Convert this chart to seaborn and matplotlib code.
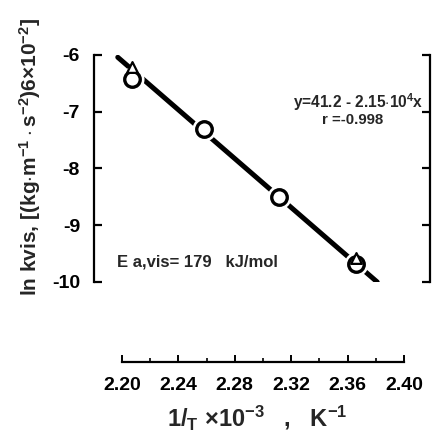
import matplotlib
matplotlib.use("Agg")
import matplotlib.pyplot as plt
import seaborn as sns
import numpy as np

# data (x in 1/T x 10^-3 K^-1)
circle_x = [2.207, 2.258, 2.311, 2.366]
circle_y = [-6.42, -7.31, -8.51, -9.69]
tri_x = [2.207, 2.366]
tri_y = [-6.22, -9.57]
fit_x = [2.197, 2.381]
fit_y = [-6.04, -10.0]
y_ticks = [-6, -7, -8, -9, -10]
x_ticks = [2.20, 2.24, 2.28, 2.32, 2.36, 2.40]
x_minor = [2.22, 2.26, 2.30, 2.34, 2.38]

sns.set_theme(style="white")
plt.rcParams["font.family"] = ["Liberation Sans", "DejaVu Sans"]
plt.rcParams["font.weight"] = "bold"
plt.rcParams["axes.unicode_minus"] = False
plt.rcParams["mathtext.fontset"] = "custom"
plt.rcParams["mathtext.rm"] = "Liberation Sans:bold"
plt.rcParams["mathtext.it"] = "Liberation Sans:bold"
plt.rcParams["mathtext.bf"] = "Liberation Sans:bold"
plt.rcParams["mathtext.sf"] = "Liberation Sans:bold"

W, H = 436, 443
fig = plt.figure(figsize=(W / 100, H / 100), dpi=100)
fig.patch.set_facecolor("white")

L, R, T, B = 94, 430, 55, 282
ax = fig.add_axes([L / W, 1 - B / H, (R - L) / W, (B - T) / H])
xlim = (2.20 - (122 - L) / 1410, 2.20 + (R - 122) / 1410)
ax.set_xlim(*xlim)
ax.set_ylim(-10, -6)

# fit line
sns.lineplot(x=fit_x, y=fit_y, ax=ax, color="black", lw=3.6, zorder=2)
# white halos to create gaps around circles
sns.scatterplot(x=circle_x, y=circle_y, ax=ax, s=300, color="white",
                edgecolor="white", linewidth=0, zorder=3)
sns.scatterplot(x=circle_x, y=circle_y, ax=ax, s=125, facecolor="white",
                edgecolor="black", linewidth=2.4, zorder=4)
sns.scatterplot(x=tri_x, y=tri_y, ax=ax, s=60, marker="^", facecolor="white",
                edgecolor="black", linewidth=1.6, zorder=5)

for s in ["top", "bottom"]:
    ax.spines[s].set_visible(False)
for s in ["left", "right"]:
    ax.spines[s].set_visible(True)
    ax.spines[s].set_color("black")
    ax.spines[s].set_linewidth(1.6)
ax.set_yticks(y_ticks)
ax.set_yticklabels([str(v) for v in y_ticks], fontsize=14, fontweight="bold")
ax.set_xticks([])
ax.tick_params(axis="y", which="major", direction="in", length=6, width=1.6,
               left=True, right=True, labelleft=True, labelright=False,
               pad=10, colors="black")

ax.text(0.982, 0.793, r"y=41.2 - 2.15$\cdot$10$^{4}$x", transform=ax.transAxes,
        ha="right", va="center", fontsize=11.2, fontweight="bold")
ax.text(0.77, 0.714, "r =-0.998", transform=ax.transAxes,
        ha="center", va="center", fontsize=10.8, fontweight="bold")
ax.text(0.068, 0.088, r"E a,vis= 179   kJ/mol", transform=ax.transAxes,
        ha="left", va="center", fontsize=12, fontweight="bold")

# separate x axis
ya = 362
ax2 = fig.add_axes([L / W, 1 - ya / H, (R - L) / W, 0.001])
ax2.set_xlim(*xlim)
ax2.set_yticks([])
for s in ["top", "left", "right"]:
    ax2.spines[s].set_visible(False)
ax2.spines["bottom"].set_bounds(2.20, 2.40)
ax2.spines["bottom"].set_linewidth(1.6)
ax2.spines["bottom"].set_color("black")
ax2.set_xticks(x_ticks)
ax2.set_xticks(x_minor, minor=True)
ax2.set_xticklabels([f"{v:.2f}" for v in x_ticks], fontsize=14, fontweight="bold")
ax2.tick_params(axis="x", which="major", direction="in", length=5, width=1.4,
                pad=11, colors="black", bottom=True)
ax2.tick_params(axis="x", which="minor", direction="in", length=3, width=1.2,
                bottom=True, colors="black")
ax2.patch.set_alpha(0)

fig.text(257 / W, 1 - 418 / H, r"1/$_{T}$ $\times$10$^{-3}$   ,   K$^{-1}$",
         ha="center", va="center", fontsize=17, fontweight="bold")
fig.text(30 / W, 1 - 157 / H,
         r"ln kvis, [(kg$\cdot$m$^{-1}\cdot$s$^{-2}$)6$\times$10$^{-2}$]",
         ha="center", va="center", rotation=90, fontsize=15, fontweight="bold")

fig.savefig("out.png", dpi=100, facecolor="white")
